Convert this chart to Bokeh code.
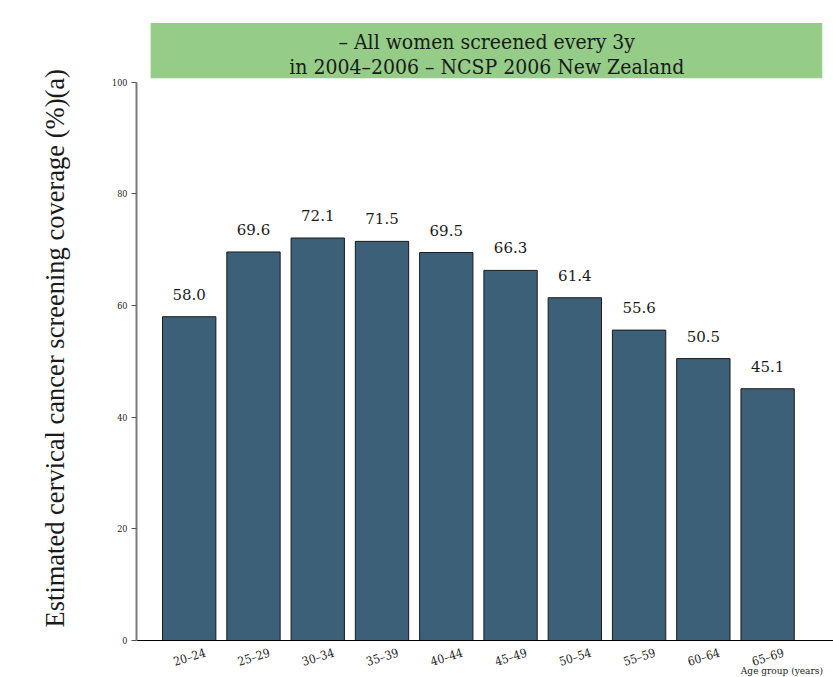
import math
from bokeh.plotting import figure
from bokeh.models import Range1d, FixedTicker, ColumnDataSource
from bokeh.core.properties import value
from bokeh.embed import file_html
from bokeh.resources import INLINE

# ---- data ----
age_groups = ["20–24", "25–29", "30–34", "35–39", "40–44",
              "45–49", "50–54", "55–59", "60–64", "65–69"]
coverage = [58.0, 69.6, 72.1, 71.5, 69.5, 66.3, 61.4, 55.6, 50.5, 45.1]
y_ticks = [0, 20, 40, 60, 80, 100]
header_lines = ["– All women screened every 3y",
                "in 2004–2006 – NCSP 2006 New Zealand"]
y_title = "Estimated cervical cancer screening coverage (%)(a)"
x_title = "Age group (years)"

idx = list(range(len(age_groups)))
src = ColumnDataSource(dict(x=idx, top=coverage,
                            lab=["%.1f" % v for v in coverage]))

p = figure(width=833, height=677, output_backend="svg", toolbar_location=None,
           x_range=Range1d(-0.82, 10.025), y_range=Range1d(-6.63, 112.5),
           min_border_left=136, min_border_right=0, min_border_top=12,
           min_border_bottom=0)
p.outline_line_color = None
p.xgrid.visible = False
p.ygrid.visible = False

# header box
p.quad(left=[-0.6], right=[9.85], bottom=[100.7], top=[110.6],
       fill_color="#94cc88", line_color=None)
p.text(x=[4.63, 4.63], y=[107.3, 102.8], text=header_lines,
       text_align="center", text_baseline="middle",
       text_font=value("DejaVu Serif Condensed"), text_font_size="21px",
       text_color="#1a1a1a")

# bars
p.vbar(x="x", top="top", width=0.83, source=src,
       fill_color="#3d6079", line_color="#1a1a1a", line_width=1)
p.text(x="x", y="top", text="lab", source=src, y_offset=-17,
       text_align="center", text_baseline="bottom",
       text_font=value("DejaVu Serif"), text_font_size="15px",
       text_color="#1a1a1a")

# y axis
ya = p.yaxis[0]
ya.bounds = (0, 100)
ya.ticker = FixedTicker(ticks=y_ticks)
ya.axis_line_color = "#7a7a7a"
ya.axis_line_width = 2
ya.major_tick_line_color = "#555555"
ya.major_tick_out = 5
ya.major_tick_in = 0
ya.minor_tick_line_color = None
ya.major_label_text_font = "DejaVu Serif Condensed"
ya.major_label_text_font_size = "9px"
ya.major_label_text_color = "#222222"
ya.major_label_standoff = 4
ya.axis_label = y_title + "\u00a0"
ya.axis_label_text_font = "Liberation Serif"
ya.axis_label_text_font_style = "normal"
ya.axis_label_text_font_size = "26.5px"
ya.axis_label_text_color = "#1a1a1a"
ya.axis_label_standoff = 39

# x axis sits at y = 0 (labels nudged right so the rotated text centres on each bar)
label_shift = 0.25
xa = p.xaxis[0]
xa.fixed_location = 0
tick_pos = [i + label_shift for i in idx]
xa.ticker = FixedTicker(ticks=tick_pos)
xa.major_label_overrides = {t: c for t, c in zip(tick_pos, age_groups)}
xa.axis_line_color = "black"
xa.axis_line_width = 1
xa.major_tick_line_color = None
xa.minor_tick_line_color = None
xa.major_label_orientation = 0.3
xa.major_label_text_font = "DejaVu Serif Condensed"
xa.major_label_text_font_size = "12px"
xa.major_label_text_color = "#222222"
xa.major_label_standoff = 6

p.text(x=[9.86], y=[-5.3], text=[x_title], text_align="right",
       text_baseline="alphabetic", text_font=value("DejaVu Serif Condensed"),
       text_font_size="10px", text_color="#1a1a1a")

open("out.html", "w").write(file_html(p, INLINE))
